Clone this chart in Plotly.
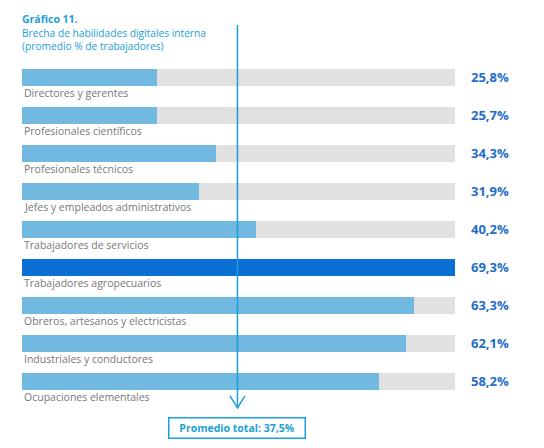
import plotly.graph_objects as go

categories = [
    "Directores y gerentes",
    "Profesionales científicos",
    "Profesionales técnicos",
    "Jefes y empleados administrativos",
    "Trabajadores de servicios",
    "Trabajadores agropecuarios",
    "Obreros, artesanos y electricistas",
    "Industriales y conductores",
    "Ocupaciones elementales",
]
values = [25.8, 25.7, 34.3, 31.9, 40.2, 69.3, 63.3, 62.1, 58.2]
value_labels = ["25,8%", "25,7%", "34,3%", "31,9%", "40,2%", "69,3%", "63,3%", "62,1%", "58,2%"]
average = 37.5
average_label = "Promedio total: 37,5%"
title = "Gráfico 11."
subtitle_lines = ["Brecha de habilidades digitales interna", "(promedio % de trabajadores)"]

X_MIN, X_MAX = 6, 69.3
PLOT_W = 433
PLOT_H = 420
ROW_PX = 38
BAR_W = 0.435
LIGHT = "#72b9e1"
DARK = "#0b6fd4"
TRACK = "#e1e1e1"
CYAN = "#1aa0d8"
VAL_COL = "#1f6ccb"
LAB_COL = "#777777"
FONT = "Open Sans"

n = len(categories)
ys = list(range(n))
hi = values.index(max(values))
colors = [DARK if i == hi else LIGHT for i in range(n)]

# y-range: plot area spans rows from -1.508 to 9.544 (38 px per row)
Y_TOP, Y_BOT = -1.508, -1.508 + PLOT_H / ROW_PX


def paper_y(row_y):
    return (Y_BOT - row_y) / (Y_BOT - Y_TOP)


fig = go.Figure()
fig.add_trace(go.Bar(x=[X_MAX] * n, y=ys, orientation="h", marker=dict(color=TRACK, line=dict(width=0)),
                     width=BAR_W, hoverinfo="skip", showlegend=False))
fig.add_trace(go.Bar(x=values, y=ys, orientation="h", marker=dict(color=colors, line=dict(width=0)),
                     width=BAR_W, hoverinfo="skip", showlegend=False))

annotations = []
for i, (c, vl) in enumerate(zip(categories, value_labels)):
    annotations.append(dict(text=c, xref="paper", x=0, xanchor="left", xshift=0,
                            yref="y", y=i + 0.42, yanchor="middle", showarrow=False,
                            font=dict(family=FONT, size=10.5, color=LAB_COL)))
    annotations.append(dict(text=f"<b>{vl}</b>", xref="paper", x=1, xanchor="left", xshift=14,
                            yref="y", y=i, yanchor="middle", showarrow=False,
                            font=dict(family=FONT, size=13, color=VAL_COL)))

annotations.append(dict(text=f"<b>{title}</b>", xref="paper", x=0, xanchor="left", xshift=-2,
                        yref="paper", y=paper_y(-1.535), yanchor="middle", showarrow=False,
                        font=dict(family=FONT, size=10.5, color=CYAN)))
annotations.append(dict(text="<br>".join(subtitle_lines), xref="paper", x=0, xanchor="left", xshift=-2,
                        yref="paper", y=paper_y(-1.0), yanchor="middle",
                        showarrow=False, align="left",
                        font=dict(family=FONT, size=10.2, color=CYAN)))
annotations.append(dict(text=f"<b>{average_label}</b>", xref="x", x=average, xanchor="center",
                        yref="y", y=n - 1 + 1.22, yanchor="middle", showarrow=False,
                        width=131, height=15, borderpad=2, bordercolor=CYAN, borderwidth=1.5,
                        font=dict(family=FONT, size=10.5, color=CYAN)))

line_top = -1.376
tip = n - 1 + 0.70
dx = 7.5 / (PLOT_W / (X_MAX - X_MIN))
dy = 12 / ROW_PX
shapes = [
    dict(type="line", xref="x", yref="y", x0=average, x1=average, y0=line_top, y1=tip,
         line=dict(color=CYAN, width=1.5)),
    dict(type="path", xref="x", yref="y",
         path=f"M {average - dx},{tip - dy} L {average},{tip} L {average + dx},{tip - dy}",
         line=dict(color=CYAN, width=1.5)),
]

fig.update_layout(
    width=544, height=448,
    margin=dict(l=14, r=544 - 14 - PLOT_W, t=12, b=448 - 12 - PLOT_H),
    paper_bgcolor="white", plot_bgcolor="white",
    barmode="overlay", bargap=0,
    xaxis=dict(range=[X_MIN, X_MAX], visible=False, fixedrange=True),
    yaxis=dict(range=[Y_BOT, Y_TOP], visible=False, fixedrange=True),
    annotations=annotations, shapes=shapes,
    showlegend=False,
)

fig.write_html("out.html")
